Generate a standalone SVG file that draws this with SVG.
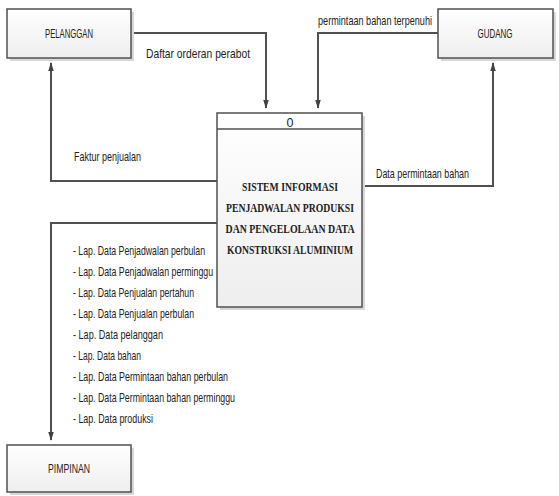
<svg xmlns="http://www.w3.org/2000/svg" width="559" height="496" viewBox="0 0 559 496">
<defs>
<linearGradient id="g" x1="0" y1="0" x2="0" y2="1"><stop offset="0" stop-color="#ffffff"/><stop offset="1" stop-color="#eeeeee"/></linearGradient>
<marker id="a" markerWidth="9" markerHeight="14" refX="13" refY="4.5" orient="auto" markerUnits="userSpaceOnUse" viewBox="0 0 14 9"><path d="M0,0 L14,4.5 L0,9 Z" fill="#404040"/></marker>
</defs>
<style>
.box{fill:url(#g);stroke:#505050;stroke-width:1.5}
.sh{fill:#d8d8d8}
.ln{fill:none;stroke:#505050;stroke-width:2}
.t{font-family:"Liberation Sans",Arial,sans-serif;font-size:13px;fill:#222}
.b{font-family:"Liberation Serif","Times New Roman",serif;font-size:13.5px;font-weight:bold;fill:#222;text-anchor:middle}
</style>
<g id="connectors">
<path class="ln" d="M131,33 H266 V108" marker-end="url(#a)"/>
<path class="ln" d="M438,33 H318 V108" marker-end="url(#a)"/>
<path class="ln" d="M217,181 H51 V63" marker-end="url(#a)"/>
<path class="ln" d="M362,186 H493 V63" marker-end="url(#a)"/>
<path class="ln" d="M217,223 H51 V440" marker-end="url(#a)"/>
<text class="t" x="146" y="58" textLength="104" lengthAdjust="spacingAndGlyphs">Daftar orderan perabot</text>
<text class="t" x="318" y="25" textLength="114" lengthAdjust="spacingAndGlyphs">permintaan bahan terpenuhi</text>
<text class="t" x="74" y="161" textLength="67" lengthAdjust="spacingAndGlyphs">Faktur penjualan</text>
<text class="t" x="376" y="178" textLength="93" lengthAdjust="spacingAndGlyphs">Data permintaan bahan</text>
<g class="t" transform="translate(73 0) scale(0.67 1)">
<text x="0" y="255" textLength="197" lengthAdjust="spacingAndGlyphs">- Lap. Data Penjadwalan perbulan</text>
<text x="0" y="276" textLength="209" lengthAdjust="spacingAndGlyphs">- Lap. Data Penjadwalan perminggu</text>
<text x="0" y="297" textLength="180.6" lengthAdjust="spacingAndGlyphs">- Lap. Data Penjualan pertahun</text>
<text x="0" y="318" textLength="180.6" lengthAdjust="spacingAndGlyphs">- Lap. Data Penjualan perbulan</text>
<text x="0" y="339" textLength="134.3" lengthAdjust="spacingAndGlyphs">- Lap. Data pelanggan</text>
<text x="0" y="360" textLength="101.5" lengthAdjust="spacingAndGlyphs">- Lap. Data bahan</text>
<text x="0" y="381" textLength="231.3" lengthAdjust="spacingAndGlyphs">- Lap. Data Permintaan bahan perbulan</text>
<text x="0" y="402" textLength="241.8" lengthAdjust="spacingAndGlyphs">- Lap. Data Permintaan bahan perminggu</text>
<text x="0" y="423" textLength="119.4" lengthAdjust="spacingAndGlyphs">- Lap. Data produksi</text>
</g>
</g>
<g id="pelanggan">
<rect class="sh" x="10" y="12" width="124" height="49"/>
<rect class="box" x="7" y="9" width="124" height="49"/>
<text class="t" x="69" y="38" text-anchor="middle" textLength="48" lengthAdjust="spacingAndGlyphs">PELANGGAN</text>
</g>
<g id="gudang">
<rect class="sh" x="441" y="12" width="115" height="49"/>
<rect class="box" x="438" y="9" width="115" height="49"/>
<text class="t" x="495" y="38" text-anchor="middle" textLength="35" lengthAdjust="spacingAndGlyphs">GUDANG</text>
</g>
<g id="pimpinan">
<rect class="sh" x="10" y="448" width="124" height="47"/>
<rect class="box" x="7" y="445" width="124" height="47"/>
<text class="t" x="69" y="473" text-anchor="middle" textLength="42" lengthAdjust="spacingAndGlyphs">PIMPINAN</text>
</g>
<g id="process0">
<rect class="sh" x="220" y="116" width="145" height="194"/>
<rect class="box" x="217" y="113" width="145" height="194"/>
<line x1="217" y1="129" x2="362" y2="129" stroke="#505050" stroke-width="1.5"/>
<text class="t" x="290" y="127" text-anchor="middle" textLength="7" lengthAdjust="spacingAndGlyphs">0</text>
<g transform="translate(290 0) scale(0.71 1)">
<text class="b" x="0" y="191" textLength="135.2" lengthAdjust="spacingAndGlyphs">SISTEM INFORMASI</text>
<text class="b" x="0" y="212" textLength="180.3" lengthAdjust="spacingAndGlyphs">PENJADWALAN PRODUKSI</text>
<text class="b" x="0" y="233" textLength="181.7" lengthAdjust="spacingAndGlyphs">DAN PENGELOLAAN  DATA</text>
<text class="b" x="0" y="254" textLength="177.5" lengthAdjust="spacingAndGlyphs">KONSTRUKSI ALUMINIUM</text>
</g>
</g>
</svg>
